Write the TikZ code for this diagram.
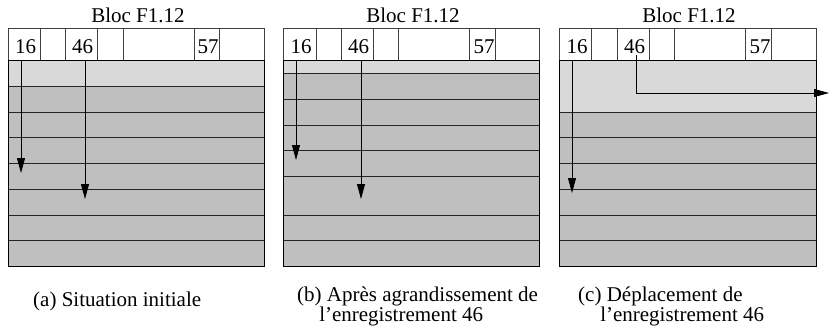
\documentclass[tikz,border=0pt]{standalone}
\usepackage{fontspec}
\setmainfont{Liberation Serif}
\usetikzlibrary{arrows.meta}

\begin{document}
\begin{tikzpicture}[x=1pt, y=-1pt,
    free/.style = {fill=black!15},
    rec/.style = {fill=black!25},
    sep/.style = {draw=black!85, line width=0.8pt},
    hdr/.style = {draw=black!75, line width=0.8pt},
    txt/.style = {anchor=base, inner sep=0pt, font=\fontsize{21}{21}\selectfont},
    captxt/.style = {inner sep=0pt, align=left, font=\fontsize{21}{20}\selectfont},
    ptr/.style = {-{Triangle[length=15pt, width=8pt]}, line width=0.8pt}]
\useasboundingbox (0,0) rectangle (829,329);

% (a) situation initiale
\begin{scope}[xshift=8pt]
\fill[rec] (0,60) rectangle (256,266);
\fill[free] (0,60) rectangle (256,86);
\foreach \y in {86,112,137,163,189,215,240}
    \draw[sep] (0,\y) -- (256,\y);
\draw[hdr, fill=white] (0,28) rectangle (256,60);
\foreach \x in {32,57,89,115,186,211}
    \draw[hdr] (\x,28) -- (\x,60);
\draw[line width=0.8pt] (0,60) rectangle (256,266);
\node[txt] (atitle) at (130,23) {Bloc F1.12};
\node[txt] (a16) at (17.5,54) {16};
\node[txt] (a46) at (74.5,54) {46};
\node[txt] (a57) at (200,54) {57};
\coordinate (a16top) at (13,60);
\coordinate (a16rec) at (13,173);
\coordinate (a46top) at (77,60);
\coordinate (a46rec) at (77,199);
\draw[ptr] (a16top) -- (a16rec);
\draw[ptr] (a46top) -- (a46rec);
\end{scope}

% (b) record 46 grows
\begin{scope}[xshift=283pt]
\fill[rec] (0,60) rectangle (256,266);
\fill[free] (0,60) rectangle (256,73);
\foreach \y in {73,99,125,150,176,215,240}
    \draw[sep] (0,\y) -- (256,\y);
\draw[hdr, fill=white] (0,28) rectangle (256,60);
\foreach \x in {33,58,90,115,186,212}
    \draw[hdr] (\x,28) -- (\x,60);
\draw[line width=0.8pt] (0,60) rectangle (256,266);
\node[txt] (btitle) at (130,23) {Bloc F1.12};
\node[txt] (b16) at (18,54) {16};
\node[txt] (b46) at (75.5,54) {46};
\node[txt] (b57) at (201,54) {57};
\coordinate (b16top) at (13,60);
\coordinate (b16rec) at (13,160);
\coordinate (b46top) at (78,60);
\coordinate (b46rec) at (78,199);
\draw[ptr] (b16top) -- (b16rec);
\draw[ptr] (b46top) -- (b46rec);
\end{scope}

% (c) record 46 moved out
\begin{scope}[xshift=559pt]
\fill[rec] (0,60) rectangle (257,266);
\fill[free] (0,60) rectangle (257,112);
\foreach \y in {112,137,163,189,215,240}
    \draw[sep] (0,\y) -- (257,\y);
\draw[hdr, fill=white] (0,28) rectangle (257,60);
\foreach \x in {32,58,90,115,186,212}
    \draw[hdr] (\x,28) -- (\x,60);
\draw[line width=0.8pt] (0,60) rectangle (257,266);
\node[txt] (ctitle) at (130,23) {Bloc F1.12};
\node[txt] (c16) at (18,54) {16};
\node[txt] (c46) at (75.5,54) {46};
\node[txt] (c57) at (201,54) {57};
\coordinate (c16top) at (13,60);
\coordinate (c16rec) at (13,193);
\coordinate (c46top) at (77,55);
\coordinate (c46out) at (270,93);
\draw[ptr] (c16top) -- (c16rec);
\draw[ptr] (c46top) |- (c46out);
\end{scope}

% captions
\node[captxt, anchor=base west] (capa) at (33,306) {(a) Situation initiale};
\node[captxt, anchor=north west] (capb) at (297,287)
    {(b) Après agrandissement de\\\hspace*{1.05em}l'enregistrement 46};
\node[captxt, anchor=north west] (capc) at (578,287)
    {(c) Déplacement de\\\hspace*{1.05em}l'enregistrement 46};
\end{tikzpicture}
\end{document}
